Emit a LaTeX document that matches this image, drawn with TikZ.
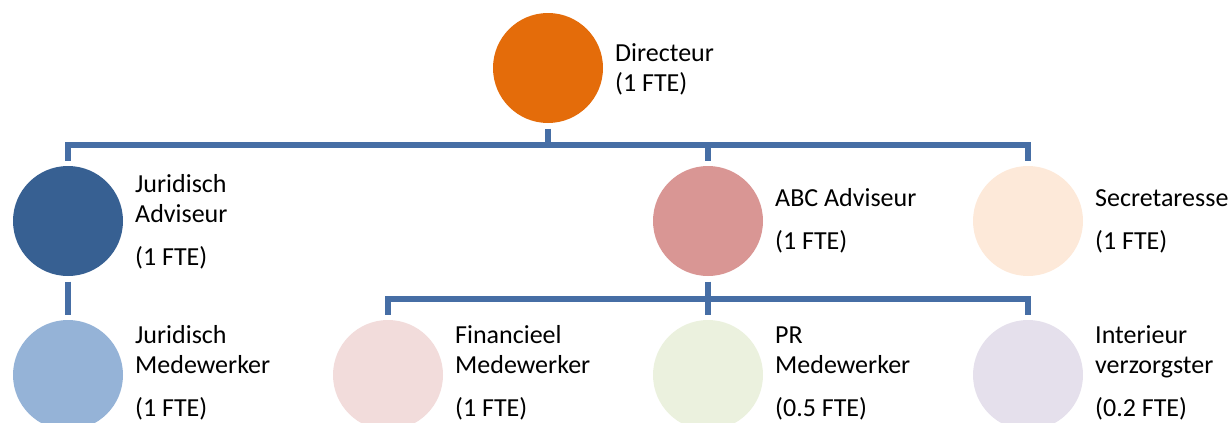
\documentclass[tikz,border=0pt]{standalone}
\usepackage{fontspec}
\setmainfont{Carlito}
\usepackage{tikz}
\usetikzlibrary{positioning}

\definecolor{linkblue}{RGB}{70,110,165}
\definecolor{dirorange}{RGB}{228,108,10}
\definecolor{jadvblue}{RGB}{55,96,146}
\definecolor{jmedblue}{RGB}{149,179,215}
\definecolor{abcrose}{RGB}{217,150,148}
\definecolor{secpeach}{RGB}{253,233,217}
\definecolor{finpink}{RGB}{242,220,219}
\definecolor{prgreen}{RGB}{235,241,222}
\definecolor{intlilac}{RGB}{229,224,236}

\begin{document}
\begin{tikzpicture}[x=1pt,y=-1pt,
    person/.style={circle, minimum size=110pt, inner sep=0pt, outer sep=5.5pt},
    info/.style={anchor=west, align=left, inner sep=0pt,
      font=\fontsize{26}{30}\selectfont},
    link/.style={draw=linkblue, line width=5.5pt, line join=miter}]

  \useasboundingbox (0,0) rectangle (1232,423);
  \clip (0,0) rectangle (1232,423);

  % top
  \node[person, fill=dirorange] (dir) at (548,68) {};
  \node[info] (dirtxt) at (615,69) {Directeur\\(1 FTE)};

  % middle row
  \node[person, fill=jadvblue] (jadv) at (68,221) {};
  \node[info] (jadvtxt) at (135,222) {Juridisch\\Adviseur\\[13pt](1 FTE)};
  \node[person, fill=abcrose] (abc) at (708,221) {};
  \node[info] (abctxt) at (775,221) {ABC Adviseur\\[13pt](1 FTE)};
  \node[person, fill=secpeach] (sec) at (1028,221) {};
  \node[info] (sectxt) at (1095,221) {Secretaresse\\[13pt](1 FTE)};

  % bottom row
  \node[person, fill=jmedblue] (jmed) at (68,375) {};
  \node[info] (jmedtxt) at (135,373) {Juridisch\\Medewerker\\[13pt](1 FTE)};
  \node[person, fill=finpink] (fin) at (388,375) {};
  \node[info] (fintxt) at (455,373) {Financieel\\Medewerker\\[13pt](1 FTE)};
  \node[person, fill=prgreen] (pr) at (708,375) {};
  \node[info] (prtxt) at (775,373) {PR\\Medewerker\\[13pt](0.5 FTE)};
  \node[person, fill=intlilac] (int) at (1028,375) {};
  \node[info] (inttxt) at (1095,373) {Interieur\\verzorgster\\[13pt](0.2 FTE)};

  % connectors
  \coordinate (busa) at (0,145);
  \coordinate (busb) at (0,299);
  \draw[link] (dir.south) -- (dir.south |- busa);
  \draw[link] (jadv.north) -- (jadv.north |- busa) -- (sec.north |- busa) -- (sec.north);
  \draw[link] (abc.north) -- (abc.north |- busa);
  \draw[link] (jadv.south) -- (jmed.north);
  \draw[link] (abc.south) -- (abc.south |- busb);
  \draw[link] (fin.north) -- (fin.north |- busb) -- (int.north |- busb) -- (int.north);
  \draw[link] (pr.north) -- (pr.north |- busb);

\end{tikzpicture}
\end{document}
